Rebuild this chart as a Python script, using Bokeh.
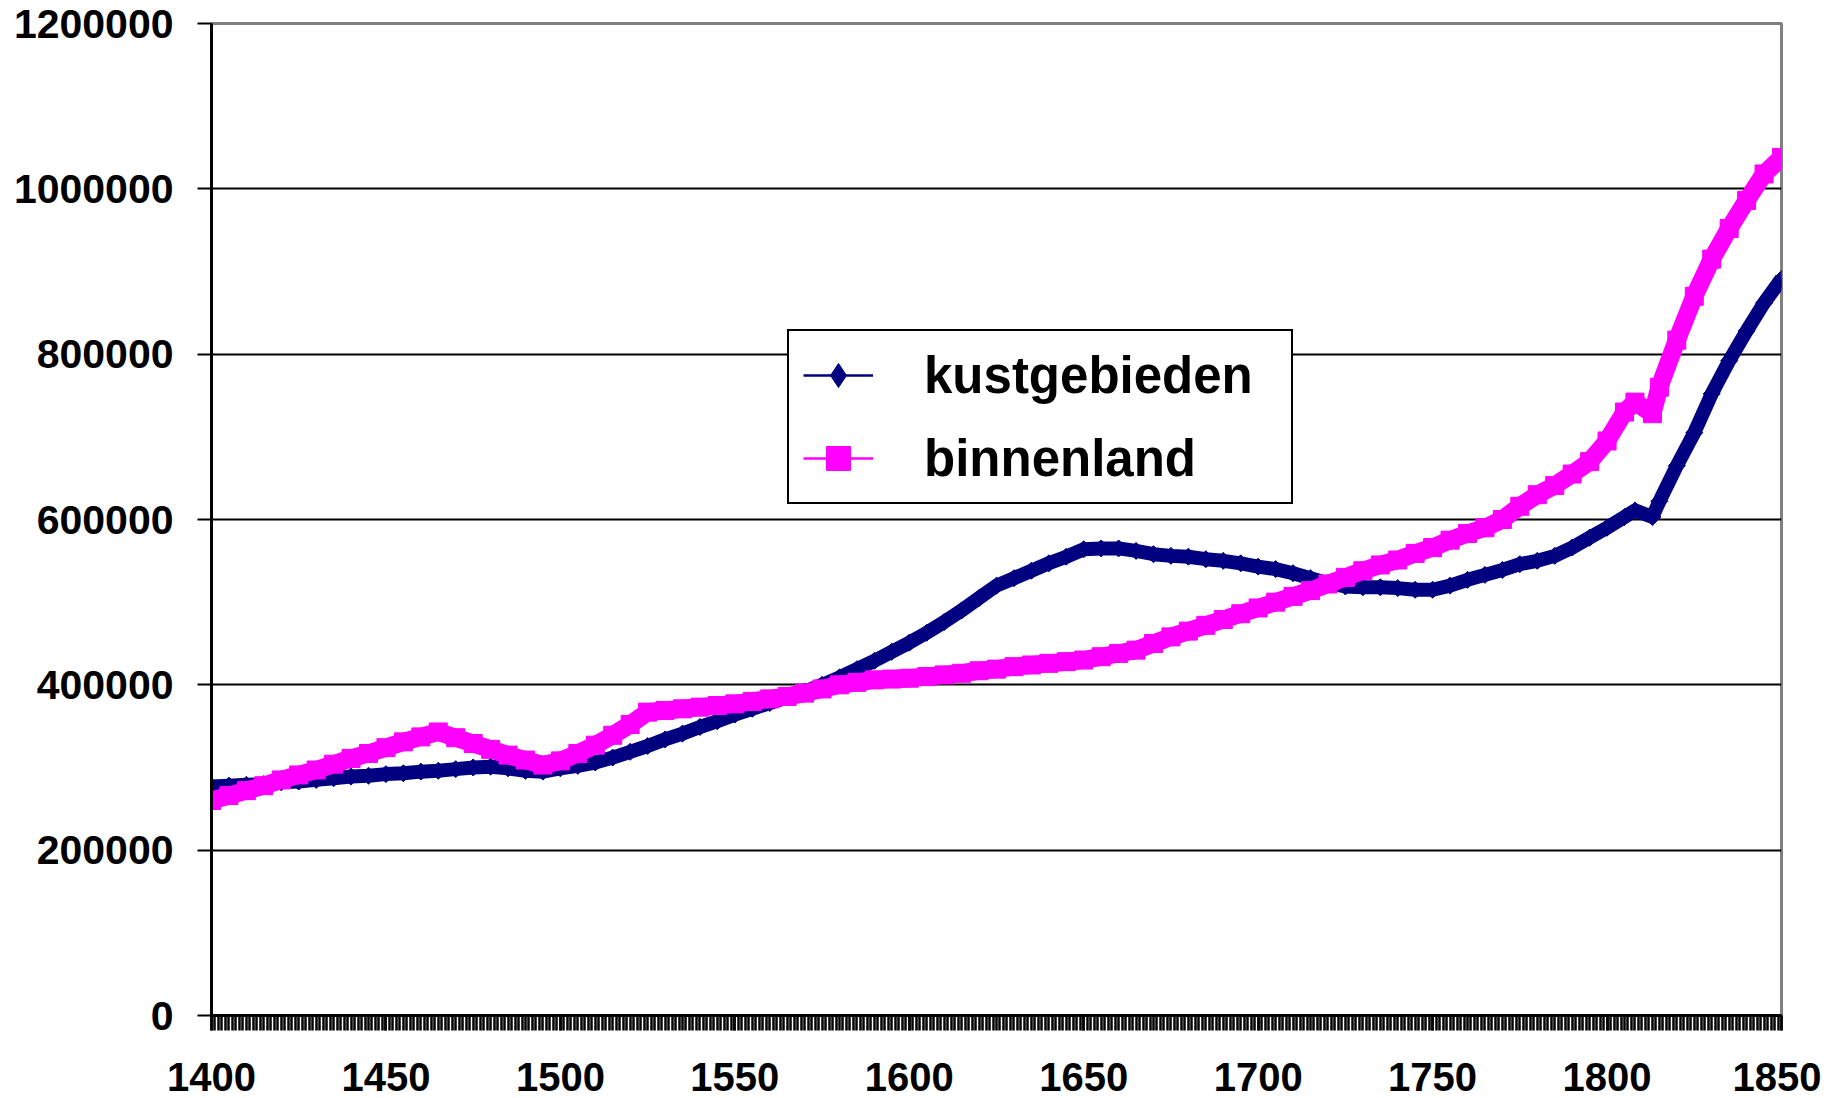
import numpy as np
from bokeh.plotting import figure
from bokeh.models import FixedTicker, PrintfTickFormatter, Legend, LegendItem, Range1d
from bokeh.embed import file_html
from bokeh.resources import INLINE

years = [1400, 1405, 1410, 1415, 1420, 1425, 1430, 1435, 1440, 1445,
         1450, 1455, 1460, 1465, 1470, 1475, 1480, 1485, 1490, 1495,
         1500, 1505, 1510, 1515, 1520, 1525, 1530, 1535, 1540, 1545,
         1550, 1555, 1560, 1565, 1570, 1575, 1580, 1585, 1590, 1595,
         1600, 1605, 1610, 1615, 1620, 1625, 1630, 1635, 1640, 1645,
         1650, 1655, 1660, 1665, 1670, 1675, 1680, 1685, 1690, 1695,
         1700, 1705, 1710, 1715, 1720, 1725, 1730, 1735, 1740, 1745,
         1750, 1755, 1760, 1765, 1770, 1775, 1780, 1785, 1790, 1795,
         1800, 1805, 1808, 1813, 1815, 1820, 1825, 1830, 1835, 1840,
         1845, 1850]

kustgebieden = [277000, 278000, 279000, 280000, 282000, 283000, 285000, 287000, 289000, 290000,
                292000, 293000, 295000, 296000, 298000, 300000, 301000, 299000, 296000, 295000,
                299000, 302000, 306000, 312000, 319000, 326000, 334000, 341000, 349000, 356000,
                364000, 371000, 378000, 385000, 392000, 400000, 409000, 419000, 429000, 440000,
                451000, 463000, 476000, 490000, 505000, 520000, 529000, 538000, 547000, 555000,
                564000, 565000, 565000, 562000, 558000, 556000, 555000, 552000, 550000, 547000,
                543000, 540000, 535000, 529000, 523000, 519000, 518000, 518000, 517000, 515000,
                515000, 520000, 527000, 533000, 539000, 546000, 550000, 556000, 566000, 578000,
                590000, 603000, 611000, 603000, 622000, 665000, 705000, 752000, 792000, 828000,
                862000, 891000]

binnenland = [260000, 266000, 272000, 278000, 285000, 291000, 297000, 304000, 311000, 317000,
              324000, 331000, 337000, 343000, 336000, 329000, 322000, 315000, 309000, 303000,
              308000, 317000, 327000, 339000, 352000, 367000, 369000, 371000, 373000, 375000,
              377000, 380000, 383000, 386000, 390000, 395000, 400000, 403000, 406000, 407000,
              408000, 410000, 412000, 414000, 417000, 419000, 422000, 424000, 426000, 428000,
              430000, 434000, 438000, 442000, 450000, 458000, 465000, 472000, 479000, 486000,
              493000, 500000, 507000, 514000, 522000, 530000, 538000, 545000, 551000, 559000,
              566000, 575000, 583000, 590000, 600000, 616000, 630000, 641000, 655000, 670000,
              695000, 730000, 742000, 728000, 760000, 817000, 870000, 915000, 952000, 986000,
              1018000, 1038000]

x_major_ticks = list(range(1400, 1851, 50))
x_minor_ticks = list(range(1400, 1851))
y_ticks = [0, 200000, 400000, 600000, 800000, 1000000, 1200000]
y_grid_ticks = [200000, 400000, 600000, 800000, 1000000]

NAVY = "#000080"
MAGENTA = "#FF00FF"
FONT = "Liberation Sans"

p = figure(frame_width=1570, frame_height=992,
           min_border_left=211, min_border_right=40, min_border_top=23, min_border_bottom=83,
           x_range=Range1d(1400, 1850), y_range=Range1d(0, 1200000),
           output_backend="svg", toolbar_location=None,
           background_fill_color="white", border_fill_color="white")

p.outline_line_color = "#808080"
p.outline_line_width = 3
p.outline_line_alpha = 1.0

# bands of markers
p.line(years, kustgebieden, line_color=NAVY, line_width=14)
p.scatter(years, kustgebieden, marker="square", angle=np.pi / 4, size=12,
          fill_color=NAVY, line_color=NAVY)
p.line(years, binnenland, line_color=MAGENTA, line_width=18)
p.scatter(years, binnenland, marker="square", size=18, fill_color=MAGENTA, line_color=MAGENTA)

# legend-only renderers (a single NaN point, nothing is drawn in the plot)
kl = p.line(x=[np.nan], y=[np.nan], line_color=NAVY, line_width=2.5)
ks = p.scatter(x=[np.nan], y=[np.nan], marker="diamond", size=21,
               fill_color=NAVY, line_color=NAVY)
bl = p.line(x=[np.nan], y=[np.nan], line_color=MAGENTA, line_width=2.5)
bs = p.scatter(x=[np.nan], y=[np.nan], marker="square", size=15,
               fill_color=MAGENTA, line_color=MAGENTA)

legend = Legend(items=[LegendItem(label="kustgebieden", renderers=[kl, ks]),
                       LegendItem(label="binnenland", renderers=[bl, bs])],
                location=(576, 511), orientation="vertical",
                padding=14, spacing=23, margin=0,
                glyph_width=70, glyph_height=60, label_height=60,
                label_standoff=51, label_width=353,
                label_text_font=FONT, label_text_font_style="bold",
                label_text_font_size="51px", label_text_color="black",
                border_line_color="black", border_line_width=2.5, border_line_alpha=1.0,
                background_fill_color="white", background_fill_alpha=1.0)
p.add_layout(legend)

# x axis
xa = p.xaxis[0]
xa.ticker = FixedTicker(ticks=x_major_ticks, minor_ticks=x_minor_ticks)
xa.axis_line_color = "black"
xa.axis_line_width = 3
xa.major_tick_in = 0
xa.major_tick_out = 15
xa.major_tick_line_width = 2.5
xa.minor_tick_in = 0
xa.minor_tick_out = 15
xa.minor_tick_line_width = 2.5
xa.minor_tick_line_color = "black"
xa.major_label_standoff = 32
xa.major_label_text_font = FONT
xa.major_label_text_font_style = "bold"
xa.major_label_text_font_size = "40px"
xa.major_label_text_color = "black"

# y axis
ya = p.yaxis[0]
ya.ticker = FixedTicker(ticks=y_ticks)
ya.formatter = PrintfTickFormatter(format="%d")
ya.axis_line_color = "black"
ya.axis_line_width = 3
ya.major_tick_in = 0
ya.major_tick_out = 14
ya.major_tick_line_width = 2
ya.minor_tick_line_color = None
ya.major_label_standoff = 24
ya.major_label_text_font = FONT
ya.major_label_text_font_style = "bold"
ya.major_label_text_font_size = "41px"
ya.major_label_text_color = "black"

p.xgrid.visible = False
p.ygrid.ticker = FixedTicker(ticks=y_grid_ticks)
p.ygrid.grid_line_color = "black"
p.ygrid.grid_line_width = 2
p.ygrid.grid_line_alpha = 1.0

open("out.html", "w").write(file_html(p, INLINE))
